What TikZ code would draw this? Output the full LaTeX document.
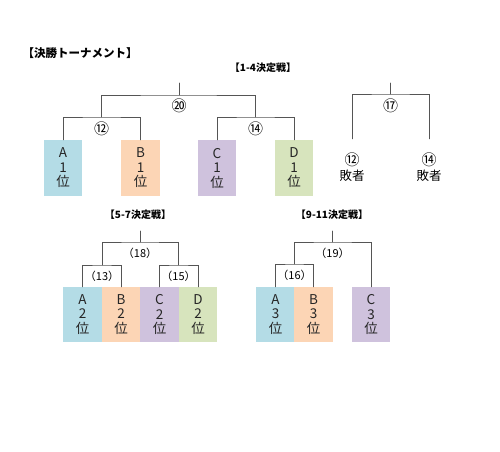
\documentclass[tikz,border=0pt]{standalone}
\usepackage{fontspec}
\setmainfont{Noto Sans CJK JP}
\usepackage{tikz}
\usetikzlibrary{positioning, calc}
\definecolor{celeste}{HTML}{B4DCE6}
\definecolor{pesca}{HTML}{FCD5B5}
\definecolor{lilla}{HTML}{CFC2DD}
\definecolor{salvia}{HTML}{D7E4BD}
\definecolor{grigio}{HTML}{555555}
\newcommand{\cerchio}[1]{{\fontsize{15}{15}\selectfont #1}}

\begin{document}
\begin{tikzpicture}[x=1pt, y=-1pt, line cap=round,
		squadra/.style={minimum width=38.5pt, minimum height=56pt, inner sep=0pt, align=center, text=black!85,
			font=\fontsize{13.5}{14.5}\selectfont},
		sconfitto/.style={minimum width=38pt, minimum height=56pt, inner sep=0pt, align=center,
			font=\fontsize{12.5}{14.5}\selectfont},
		ramo/.style={draw=grigio, line width=0.8pt},
		gara/.style={inner sep=0pt, font=\fontsize{15}{15}\selectfont},
		tondo/.style={inner sep=0pt, font=\fontsize{11}{11}\selectfont},
		turno/.style={inner sep=0pt, font=\bfseries\fontsize{10}{10}\selectfont}]
		\useasboundingbox (0,0) rectangle (500,451);
		%titolo
		\node[inner sep=0pt, font=\bfseries\fontsize{11.5}{12}\selectfont] (titolo) at (80,53) {【決勝トーナメント】};

		% finale 1-4
		\node[turno] (t14) at (263,68) {【1-4決定戦】};
		\node[squadra, fill=celeste] (A1) at (63,168) {A\\1\\位};
		\node[squadra, fill=pesca] (B1) at (140.5,168) {B\\1\\位};
		\node[squadra, fill=lilla] (C1) at (217,168) {C\\1\\位};
		\node[squadra, fill=salvia] (D1) at (294,168) {D\\1\\位};
		\coordinate (j12) at (101.5,117);
		\coordinate (j14) at (255.5,117);
		\coordinate (j20) at (179,95);
		\coordinate (s20) at (179,83);
		\draw[ramo] (A1.north) |- (j12) -| (B1.north);
		\draw[ramo] (C1.north) |- (j14) -| (D1.north);
		\draw[ramo] (j12) |- (j20) -| (j14);
		\draw[ramo] (j20) -- (s20);
		\node[gara] (g12) at (101.5,129) {⑫};
		\node[gara] (g14) at (255.5,129) {⑭};
		\node[gara] (g20) at (179,106) {⑳};

		% finale 3 posto
		\node[sconfitto] (P12) at (352,167) {\cerchio{⑫}\\敗者};
		\node[sconfitto] (P14) at (429,167) {\cerchio{⑭}\\敗者};
		\coordinate (j17) at (390.5,94);
		\coordinate (s17) at (390.5,83);
		\draw[ramo] (P12.north) |- (j17) -| (P14.north);
		\draw[ramo] (j17) -- (s17);
		\node[gara] (g17) at (390.5,106) {⑰};

		% finale 5-7
		\node[turno] (t57) at (138,215) {【5-7決定戦】};
		\node[squadra, fill=celeste, minimum height=55pt] (A2) at (82.5,314.5) {A\\2\\位};
		\node[squadra, fill=pesca, minimum height=55pt] (B2) at (121,314.5) {B\\2\\位};
		\node[squadra, fill=lilla, minimum height=55pt] (C2) at (159.5,314.5) {C\\2\\位};
		\node[squadra, fill=salvia, minimum height=55pt] (D2) at (198,314.5) {D\\2\\位};
		\coordinate (j13) at (102,265);
		\coordinate (j15) at (178.5,265);
		\coordinate (j18) at (140,242);
		\coordinate (s18) at (140,231);
		\draw[ramo] (A2.north) |- (j13) -| (B2.north);
		\draw[ramo] (C2.north) |- (j15) -| (D2.north);
		\draw[ramo] (j13) |- (j18) -| (j15);
		\draw[ramo] (j18) -- (s18);
		\node[tondo] (g13) at (102,276) {（13）};
		\node[tondo] (g15) at (178.5,276) {（15）};
		\node[tondo] (g18) at (140,253) {（18）};

		% finale 9-11
		\node[turno] (t911) at (332,215) {【9-11決定戦】};
		\node[squadra, fill=celeste, minimum height=55pt] (A3) at (275.5,314.5) {A\\3\\位};
		\node[squadra, fill=pesca, minimum height=55pt] (B3) at (313.5,314.5) {B\\3\\位};
		\node[squadra, fill=lilla, minimum height=55pt] (C3) at (371,314.5) {C\\3\\位};
		\coordinate (j16) at (294.5,264);
		\coordinate (j19) at (332.5,242);
		\coordinate (s19) at (332.5,231);
		\draw[ramo] (A3.north) |- (j16) -| (B3.north);
		\draw[ramo] (j16) |- (j19) -| (C3.north);
		\draw[ramo] (j19) -- (s19);
		\node[tondo] (g16) at (294.5,275) {（16）};
		\node[tondo] (g19) at (332.5,253) {（19）};
	\end{tikzpicture}
\end{document}
